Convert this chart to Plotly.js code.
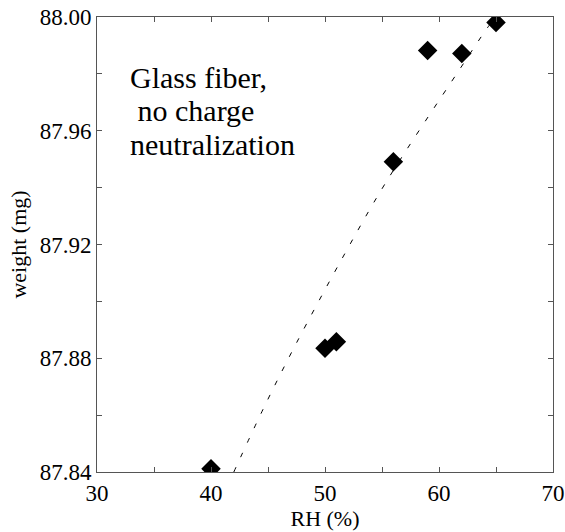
<!DOCTYPE html>
<html>
<head>
<meta charset="utf-8">
<script src="https://cdn.plot.ly/plotly-3.0.1.min.js"></script>
<style>html,body{margin:0;padding:0;background:#fff;}#chart{width:565px;height:532px;}</style>
</head>
<body>
<div id="chart"></div>
<script>
// Measured points
const rh = [40, 50, 51, 56, 59, 62, 65];
const weight = [87.8411, 87.8835, 87.8858, 87.9491, 87.9882, 87.9872, 87.9981];
// Fit curve
const fitRH = [42.0, 44.68, 47.37, 51.67, 55.32, 61.78, 64.32, 65.0];
const fitWeight = [87.840, 87.863, 87.8844, 87.9163, 87.9417, 87.9814, 87.9966, 88.000];
// Axis ticks
const xTicks = [30, 40, 50, 60, 70];
const yTicks = [87.84, 87.88, 87.92, 87.96, 88.00];
const yTickText = ["87.84", "87.88", "87.92", "87.96", "88.00"];
// Note lines
const noteLines = ["Glass fiber,", "\u00a0no charge", "neutralization"];
const noteY = [0.8675, 0.7956, 0.7202];

const serif = "Liberation Serif";
const axisColor = "#555";

const traces = [
  {
    x: fitRH, y: fitWeight, mode: "lines", type: "scatter",
    line: {color: "#000", width: 1, dash: "5px,11px", shape: "spline"},
    hoverinfo: "skip", showlegend: false
  },
  {
    x: rh, y: weight, mode: "markers", type: "scatter",
    marker: {symbol: "diamond", size: 15, color: "#000", line: {width: 0}},
    showlegend: false
  }
];

const layout = {
  width: 565, height: 532,
  margin: {l: 97, r: 12, t: 17, b: 60},
  paper_bgcolor: "#fff", plot_bgcolor: "#fff",
  font: {family: serif, size: 22, color: "#000"},
  showlegend: false,
  xaxis: {
    range: [30, 70], tickvals: xTicks, ticktext: xTicks.map(String),
    ticks: "inside", ticklen: 5, tickwidth: 1, tickcolor: axisColor,
    minor: {dtick: 5, tick0: 30, ticks: "inside", ticklen: 5, tickwidth: 1, tickcolor: axisColor},
    showline: true, linecolor: axisColor, linewidth: 1, mirror: "ticks",
    showgrid: false, zeroline: false,
    tickfont: {family: serif, size: 23, color: "#000"},
    title: {text: "RH (%)", font: {family: serif, size: 22, color: "#000"}, standoff: 3}
  },
  yaxis: {
    range: [87.84, 88.00], tickvals: yTicks, ticktext: yTickText,
    ticks: "inside", ticklen: 5, tickwidth: 1, tickcolor: axisColor,
    minor: {dtick: 0.02, tick0: 87.84, ticks: "inside", ticklen: 5, tickwidth: 1, tickcolor: axisColor},
    showline: true, linecolor: axisColor, linewidth: 1, mirror: "ticks",
    showgrid: false, zeroline: false,
    tickfont: {family: serif, size: 23, color: "#000"},
    title: {text: "weight (mg)", font: {family: serif, size: 22, color: "#000"}, standoff: 6}
  },
  annotations: noteLines.map((t, i) => ({
    text: t, xref: "paper", yref: "paper",
    x: 0.068, y: noteY[i], xanchor: "left", yanchor: "middle", align: "left",
    showarrow: false, font: {family: serif, size: 30, color: "#000"}
  }))
};

Plotly.newPlot("chart", traces, layout, {displayModeBar: false, staticPlot: true});
</script>
</body>
</html>
